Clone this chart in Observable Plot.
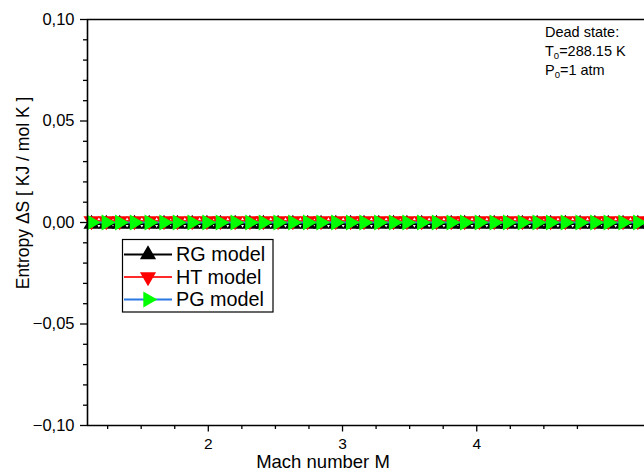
<!DOCTYPE html>
<html>
<head>
<meta charset="utf-8">
<script src="https://cdn.jsdelivr.net/npm/d3@7"></script>
<script src="https://cdn.jsdelivr.net/npm/@observablehq/plot@0.6"></script>
<style>
  html, body { margin: 0; background: #fff; overflow: hidden; }
  #chart { position: relative; width: 644px; height: 472px; overflow: hidden; }
  #chart svg { max-width: none !important; display: block; }
</style>
</head>
<body>
<div id="chart"></div>
<script>
// Mach number samples
const mach = [1.13, 1.24, 1.34, 1.45, 1.56, 1.67, 1.77, 1.88, 1.99, 2.09,
              2.20, 2.31, 2.41, 2.52, 2.63, 2.74, 2.84, 2.95, 3.06, 3.16,
              3.27, 3.38, 3.48, 3.59, 3.70, 3.81, 3.91, 4.02, 4.13, 4.23,
              4.34, 4.45, 4.55, 4.66, 4.77, 4.88, 4.98, 5.09, 5.20, 5.30];

// Entropy change ΔS [kJ / mol K] for each gas model
const rgEntropy = [-0.0008, -0.0008, -0.0008, -0.0008, -0.0008, -0.0008, -0.0008, -0.0008, -0.0008, -0.0008,
                   -0.0008, -0.0008, -0.0008, -0.0008, -0.0008, -0.0008, -0.0008, -0.0008, -0.0008, -0.0008,
                   -0.0008, -0.0008, -0.0008, -0.0008, -0.0008, -0.0008, -0.0008, -0.0008, -0.0008, -0.0008,
                   -0.0008, -0.0008, -0.0008, -0.0008, -0.0008, -0.0008, -0.0008, -0.0008, -0.0008, -0.0008];
const htEntropy = [0.0008, 0.0008, 0.0008, 0.0008, 0.0008, 0.0008, 0.0008, 0.0008, 0.0008, 0.0008,
                   0.0008, 0.0008, 0.0008, 0.0008, 0.0008, 0.0008, 0.0008, 0.0008, 0.0008, 0.0008,
                   0.0008, 0.0008, 0.0008, 0.0008, 0.0008, 0.0008, 0.0008, 0.0008, 0.0008, 0.0008,
                   0.0008, 0.0008, 0.0008, 0.0008, 0.0008, 0.0008, 0.0008, 0.0008, 0.0008, 0.0008];
const pgEntropy = [0.0000, 0.0000, 0.0000, 0.0000, 0.0000, 0.0000, 0.0000, 0.0000, 0.0000, 0.0000,
                   0.0000, 0.0000, 0.0000, 0.0000, 0.0000, 0.0000, 0.0000, 0.0000, 0.0000, 0.0000,
                   0.0000, 0.0000, 0.0000, 0.0000, 0.0000, 0.0000, 0.0000, 0.0000, 0.0000, 0.0000,
                   0.0000, 0.0000, 0.0000, 0.0000, 0.0000, 0.0000, 0.0000, 0.0000, 0.0000, 0.0000];

const modelNames = ["RG model", "HT model", "PG model"];

// Axis ticks
const xMajorTicks = [2, 3, 4];
const xMinorTicks = [1.25, 1.5, 1.75, 2.25, 2.5, 2.75, 3.25, 3.5, 3.75, 4.25, 4.5, 4.75];
const yMajorTicks = [-0.10, -0.05, 0.00, 0.05, 0.10];
const yMinorTicks = [-0.09, -0.08, -0.07, -0.06, -0.04, -0.03, -0.02, -0.01,
                     0.01, 0.02, 0.03, 0.04, 0.06, 0.07, 0.08, 0.09];
// the plot area continues past the right edge of the 644px window
const xDomain = [1.1, 5.518];
const yDomain = [-0.10, 0.10];

const FONT = "'Liberation Sans', Arial, sans-serif";
const R = 6; // marker radius

const series = [
  {name: modelNames[0], values: rgEntropy, line: "#000000", fill: "#000000", rotate: 0},
  {name: modelNames[1], values: htEntropy, line: "#ff2a2a", fill: "#ff0000", rotate: 180},
  {name: modelNames[2], values: pgEntropy, line: "#2a78e4", fill: "#00ff00", rotate: 90}
];

const rows = s => mach.map((m, i) => ({M: m, S: s.values[i]}));

const fmt = d => (d < 0 ? "\u2212" : "") + Math.abs(d).toFixed(2).replace(".", ",");

const seriesMarks = series.flatMap(s => [
  Plot.line(rows(s), {x: "M", y: "S", stroke: s.line, strokeWidth: 2, clip: true}),
  Plot.dot(rows(s), {x: "M", y: "S", symbol: "triangle", r: R, fill: s.fill, stroke: "none", rotate: s.rotate})
]);

const chart = Plot.plot({
  width: 680,
  height: 472,
  marginTop: 19,
  marginLeft: 87,
  marginRight: 0,
  marginBottom: 47,
  style: {fontFamily: FONT, background: "white", color: "#000", maxWidth: "none"},
  x: {domain: xDomain},
  y: {domain: yDomain},
  marks: [
    ...seriesMarks,
    // frame: left, top, bottom
    Plot.ruleX([xDomain[0]], {stroke: "#000", strokeWidth: 1.6}),
    Plot.ruleY(yDomain, {stroke: "#000", strokeWidth: 1.6}),
    // minor ticks
    Plot.axisX({ticks: xMinorTicks, tickSize: 4, tickFormat: () => "", label: null, strokeWidth: 1.3}),
    Plot.axisY({ticks: yMinorTicks, tickSize: 4, tickFormat: () => "", label: null, strokeWidth: 1.3}),
    // major ticks
    Plot.axisX({ticks: xMajorTicks, tickSize: 6.5, tickPadding: 6, tickFormat: d => String(d),
                label: null, fontSize: 15.5, strokeWidth: 1.3}),
    Plot.axisY({ticks: yMajorTicks, tickSize: 7, tickPadding: 6, tickFormat: fmt,
                label: null, fontSize: 16.5, strokeWidth: 1.3})
  ]
});

document.getElementById("chart").appendChild(chart);

// Titles, legend and annotation
const svg = d3.select(chart);

svg.append("text")
  .attr("x", 323).attr("y", 468)
  .attr("text-anchor", "middle")
  .style("font", `18.5px ${FONT}`)
  .text("Mach number M");

svg.append("text")
  .attr("transform", "translate(29,193) rotate(-90)")
  .attr("text-anchor", "middle")
  .style("font", `17.5px ${FONT}`)
  .text("Entropy \u0394S [ KJ / mol K ]");

// legend box
const lg = svg.append("g").attr("text-anchor", "start");
lg.append("rect")
  .attr("x", 122.5).attr("y", 239.5).attr("width", 150.5).attr("height", 72.5)
  .attr("fill", "white").attr("stroke", "#000").attr("stroke-width", 1.2);

series.forEach((s, i) => {
  const yy = 254.5 + i * 22.5;
  lg.append("line")
    .attr("x1", 124).attr("x2", 172).attr("y1", yy).attr("y2", yy)
    .attr("stroke", s.line).attr("stroke-width", 2.2);
  lg.append("path")
    .attr("d", d3.symbol(d3.symbolTriangle, Math.PI * R * R)())
    .attr("transform", `translate(148,${yy}) rotate(${s.rotate})`)
    .attr("fill", s.fill);
  lg.append("text")
    .attr("x", 176).attr("y", yy + 6.8)
    .attr("text-anchor", "start")
    .style("font", `19.8px ${FONT}`)
    .text(s.name);
});

// dead state annotation
const ann = svg.append("g").attr("text-anchor", "start").style("font", `14.5px ${FONT}`);
ann.append("text").attr("x", 545).attr("y", 37).text("Dead state:");
const t0 = ann.append("text").attr("x", 545).attr("y", 56);
t0.append("tspan").text("T");
t0.append("tspan").attr("dy", 3).style("font-size", "9.5px").text("0");
t0.append("tspan").attr("dy", -3).text("=288.15 K");
const p0 = ann.append("text").attr("x", 545).attr("y", 75);
p0.append("tspan").text("P");
p0.append("tspan").attr("dy", 3).style("font-size", "9.5px").text("0");
p0.append("tspan").attr("dy", -3).text("=1 atm");
</script>
</body>
</html>
